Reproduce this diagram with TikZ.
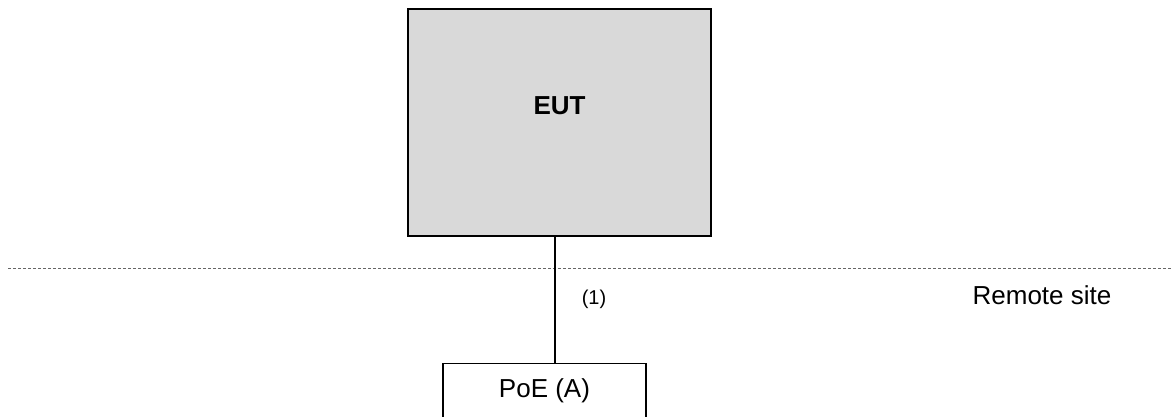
\documentclass[tikz,border=0pt]{standalone}
\usepackage{fontspec}
\setmainfont{Liberation Sans}
\usetikzlibrary{positioning}

\begin{document}
\begin{tikzpicture}[x=1pt, y=-1pt,
  box/.style={draw, line width=1.4pt, inner sep=0pt, font=\fontsize{26}{31}\selectfont},
  site/.style={draw=gray!80!black, line width=1pt, dash pattern=on 3pt off 2pt},
  lbl/.style={font=\fontsize{26}{31}\selectfont}]
\def\xa{408}
\def\xb{711}
\def\xc{555}
\def\xd{443}
\def\xe{646}

\def\ya{9}
\def\yb{236}
\def\yc{268}
\def\yd{363}

\useasboundingbox (0,0) rectangle (1172,416);

\node[box, fill=gray!30, minimum width=\xb-\xa, minimum height=\yb-\ya]
  (eut) at ({(\xa+\xb)/2}, {(\ya+\yb)/2}) {};
\node[lbl, font=\fontsize{26}{31}\selectfont\bfseries] (eutl) at ({(\xa+\xb)/2}, 106) {EUT};

\node[box, minimum width=\xe-\xd, minimum height=64, anchor=north]
  (poe) at ({(\xd+\xe)/2}, \yd) {};
\node[lbl] (poel) at ({(\xd+\xe)/2}, 391) {PoE (A)};

\coordinate (link) at (\xc, \yc);
\coordinate (sl) at (8, \yc);
\coordinate (sr) at (1172, \yc);

\draw[site] (sl) -- (sr);
\draw[line width=1.4pt] (eut.south -| link) -- (poe.north -| link);

\node[font=\fontsize{20}{24}\selectfont] (n1) at (594, 299) {(1)};
\node[lbl] (rs) at (1042, 295) {Remote site};

\end{tikzpicture}
\end{document}
